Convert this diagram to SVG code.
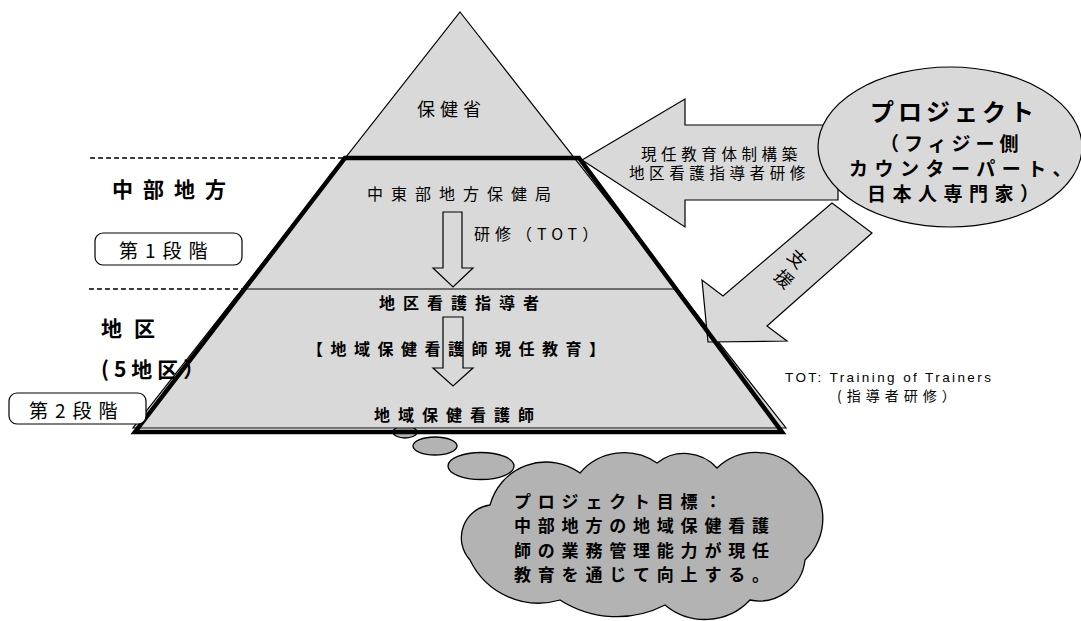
<svg xmlns="http://www.w3.org/2000/svg" width="1081" height="621" viewBox="0 0 1081 621">
<style>
.jp{font-family:"Noto Sans CJK JP","Noto Sans",sans-serif;fill:#000;dominant-baseline:central}
.b{font-weight:bold}
.en{font-family:"Liberation Sans",Arial,sans-serif;fill:#000;dominant-baseline:central}
.lt{fill:#d9d9d9;stroke:#000;stroke-width:1.2}
.dk{fill:#b3b3b3;stroke:#000;stroke-width:1.3}
.dash{stroke:#000;stroke-width:1.3;stroke-dasharray:5 3;fill:none}
.arr{fill:none;stroke:#000;stroke-width:1.2}
.box{fill:#fff;stroke:#000;stroke-width:1.2}
</style>

<g id="bubbles">
<ellipse class="dk" cx="405" cy="432" rx="12" ry="6"/>
<ellipse class="dk" cx="435" cy="446" rx="22" ry="9"/>
<ellipse class="dk" cx="481" cy="466" rx="33" ry="13.5"/>
</g>

<g id="pyramid">
<polygon class="lt" points="460,12 786,428 133,428"/>
<line x1="245" y1="289" x2="675" y2="289" stroke="#000" stroke-width="1.2"/>
</g>

<g id="connectors">
<polygon id="arrow-left" class="lt" points="582,160 685,99 685,125 838,125 838,200 685,200 685,227"/>
<polygon id="arrow-shien" class="lt" points="708,342 702,280 723,296 832,203 872,233 767,326 787,341"/>
<path id="arrow-tot" class="arr" d="M443,212 H462 V268 H473 L453,287 L433,268 H443 Z"/>
<line x1="90" y1="158" x2="345" y2="158" class="dash"/>
<line x1="89" y1="289" x2="245" y2="289" class="dash"/>
</g>

<g id="frame">
<polygon points="345,158 579,158 782,432 135,432" fill="none" stroke="#000" stroke-width="4.5" stroke-linejoin="miter"/>
</g>

<g id="moh"><text class="jp" x="417" y="108" font-size="18" letter-spacing="5">保健省</text></g>

<g id="chubu-label"><text class="jp b" x="112" y="188" font-size="21" letter-spacing="10">中部地方</text></g>
<g id="stage1"><rect class="box" x="95" y="233" width="147" height="32" rx="8"/>
<text class="jp" x="119" y="249" font-size="19" letter-spacing="7">第1段階</text></g>

<g id="district-label">
<text class="jp b" x="101" y="327" font-size="21" letter-spacing="12">地区</text>
<text class="jp b" x="101" y="368" font-size="21" letter-spacing="5">(5地区）</text>
</g>
<g id="stage2"><rect class="box" x="9" y="393" width="137" height="31" rx="8"/>
<text class="jp" x="29" y="409" font-size="19" letter-spacing="7">第2段階</text></g>

<g id="bureau"><text class="jp" x="367" y="193" font-size="16" letter-spacing="8">中東部地方保健局</text></g>
<g id="tot-label"><text class="jp" x="474" y="233" font-size="16" letter-spacing="5">研修（TOT）</text></g>

<g id="supervisor"><text class="jp b" x="379" y="302" font-size="16" letter-spacing="8">地区看護指導者</text></g>
<g id="inservice"><text class="jp b" x="307" y="348" font-size="16" letter-spacing="7.5">【地域保健看護師現任教育】</text></g>
<g id="arrow-edu"><path class="arr" d="M443,317 H463 V368 H473 L453,386 L433,368 H443 Z"/></g>
<g id="nurse"><text class="jp b" x="374" y="414" font-size="16" letter-spacing="8">地域保健看護師</text></g>

<g id="left-arrow-label">
<text class="jp" x="641" y="152.5" font-size="15.5" letter-spacing="4.6">現任教育体制構築</text>
<text class="jp" x="629" y="172" font-size="15.5" letter-spacing="4.6">地区看護指導者研修</text>
</g>

<g id="shien-label">
<text class="jp" x="798" y="258" font-size="18" text-anchor="middle" transform="rotate(45 798 258)">支</text>
<text class="jp" x="785" y="278" font-size="18" text-anchor="middle" transform="rotate(45 785 278)">援</text>
</g>

<g id="project">
<ellipse class="lt" cx="950" cy="147" rx="132" ry="80"/>
<text class="jp b" x="870" y="110" font-size="24" letter-spacing="4">プロジェクト</text>
<text class="jp b" x="880" y="142" font-size="19" letter-spacing="5">（フィジー側</text>
<text class="jp b" x="849" y="167" font-size="19" letter-spacing="6.5">カウンターパート、</text>
<text class="jp b" x="867" y="192" font-size="19" letter-spacing="6.5">日本人専門家）</text>
</g>

<g id="tot-note">
<text class="en" x="785" y="377" font-size="13.5" letter-spacing="2.4">TOT: Training of Trainers</text>
<text class="jp" x="837" y="395" font-size="14" letter-spacing="5">(指導者研修）</text>
</g>

<g id="goal">
<path class="dk" d="M490,505 A58,58 0 0 1 580,473 A58,58 0 0 1 657,463 A44,44 0 0 1 717,468 A57,57 0 0 1 800,473 A57,57 0 0 1 805,560 A46,46 0 0 1 750,600 A62,62 0 0 1 665,605 A105,105 0 0 1 560,600 A76,76 0 0 1 470,560 A33,33 0 0 1 490,505 Z"/>
<text class="jp b" x="514" y="500" font-size="17" letter-spacing="6.8">プロジェクト目標：</text>
<text class="jp b" x="514" y="524.5" font-size="17" letter-spacing="6.8">中部地方の地域保健看護</text>
<text class="jp b" x="514" y="549" font-size="17" letter-spacing="6.8">師の業務管理能力が現任</text>
<text class="jp b" x="514" y="573.5" font-size="17" letter-spacing="6.8">教育を通じて向上する。</text>
</g>
</svg>
